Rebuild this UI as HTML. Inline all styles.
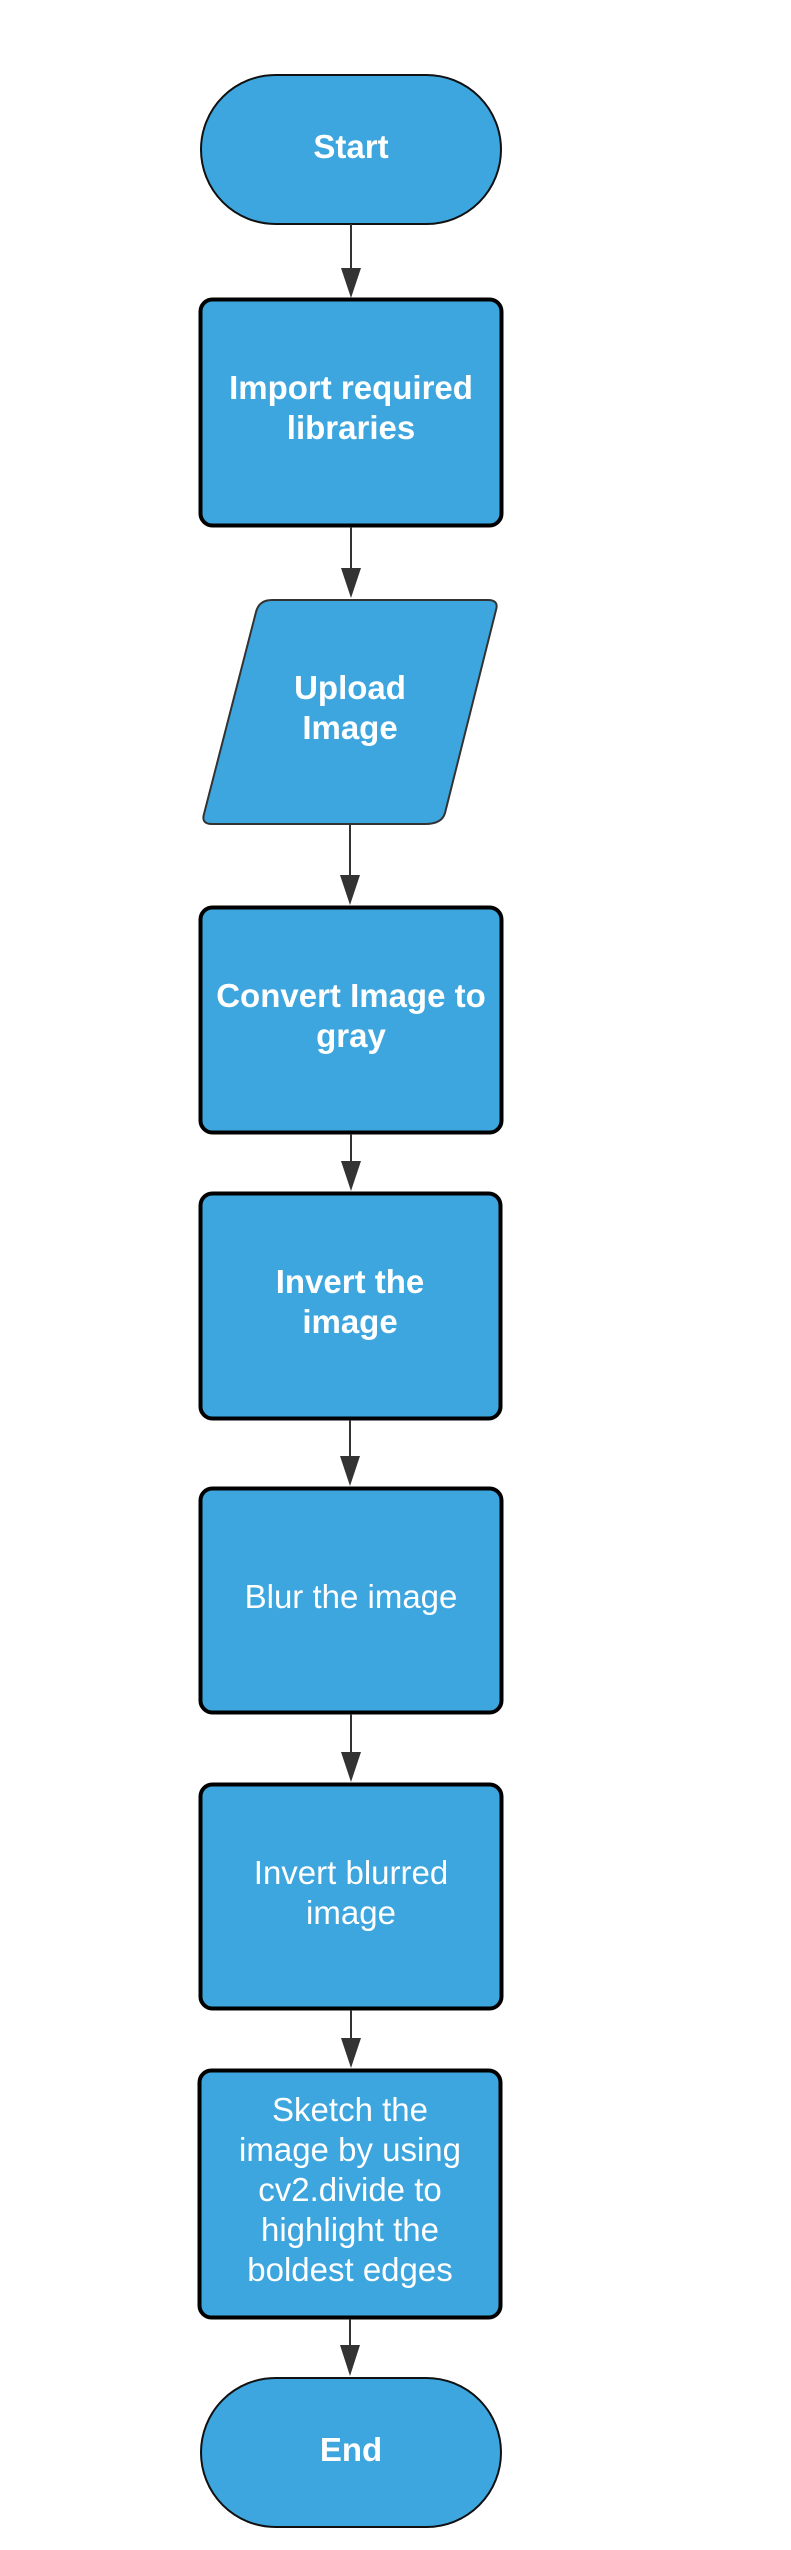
<!DOCTYPE html>
<html><head><meta charset="utf-8"><style>html,body{margin:0;padding:0;background:#fff}svg{display:block}</style></head>
<body>
<svg width="791" height="2550" viewBox="0 0 791 2550" xmlns="http://www.w3.org/2000/svg" font-family="Liberation Sans, Arial, sans-serif">
<g fill="#3da6de">
<rect x="201" y="75" width="300" height="149" rx="74.5" stroke="#111" stroke-width="2"/>
<rect x="200.5" y="299.5" width="301" height="226" rx="12" stroke="#000" stroke-width="4"/>
<path d="M272 600 L488 600 Q499 600 496 610 L445 813 Q442 824 425 824 L212 824 Q201 824 204 814 L256 612 Q259 600 272 600 Z" stroke="#333" stroke-width="2"/>
<rect x="200.5" y="907.5" width="301" height="225" rx="12" stroke="#000" stroke-width="4"/>
<rect x="200.5" y="1193.5" width="300" height="225" rx="12" stroke="#000" stroke-width="4"/>
<rect x="200.5" y="1488.5" width="301" height="224" rx="12" stroke="#000" stroke-width="4"/>
<rect x="200.5" y="1784.5" width="301" height="224" rx="12" stroke="#000" stroke-width="4"/>
<rect x="199.5" y="2070.5" width="301" height="247" rx="12" stroke="#000" stroke-width="4"/>
<rect x="201" y="2378" width="300" height="149" rx="74.5" stroke="#111" stroke-width="2"/>
</g>
<g stroke="#333" stroke-width="2">
<line x1="351" y1="224" x2="351" y2="275"/>
<line x1="351" y1="527" x2="351" y2="575"/>
<line x1="350" y1="824" x2="350" y2="880"/>
<line x1="351" y1="1134" x2="351" y2="1170"/>
<line x1="350" y1="1420" x2="350" y2="1465"/>
<line x1="351" y1="1714" x2="351" y2="1760"/>
<line x1="351" y1="2010" x2="351" y2="2045"/>
<line x1="350" y1="2319" x2="350" y2="2350"/>
</g>
<g fill="#333">
<path d="M341 268 L361 268 L351 298 Z"/>
<path d="M341 568 L361 568 L351 598 Z"/>
<path d="M340 875 L360 875 L350 905 Z"/>
<path d="M341 1161 L361 1161 L351 1191 Z"/>
<path d="M340 1456 L360 1456 L350 1486 Z"/>
<path d="M341 1752 L361 1752 L351 1782 Z"/>
<path d="M341 2038 L361 2038 L351 2068 Z"/>
<path d="M340 2345 L360 2345 L350 2376 Z"/>
</g>
<g fill="#fff" text-anchor="middle" font-size="33">
<g font-weight="bold" font-size="33">
<text x="351" y="158">Start</text>
<text x="351" y="399">Import required</text><text x="351" y="439">libraries</text>
<text x="350" y="699">Upload</text><text x="350" y="739">Image</text>
<text x="351" y="1007">Convert Image to</text><text x="351" y="1047">gray</text>
<text x="350" y="1293">Invert the</text><text x="350" y="1333">image</text>
<text x="351" y="2461">End</text>
</g>
<text x="351" y="1608">Blur the image</text>
<text x="351" y="1884">Invert blurred</text><text x="351" y="1924">image</text>
<text x="350" y="2121">Sketch the</text>
<text x="350" y="2161">image by using</text>
<text x="350" y="2201">cv2.divide to</text>
<text x="350" y="2241">highlight the</text>
<text x="350" y="2281">boldest edges</text>
</g>
</svg>
</body></html>
